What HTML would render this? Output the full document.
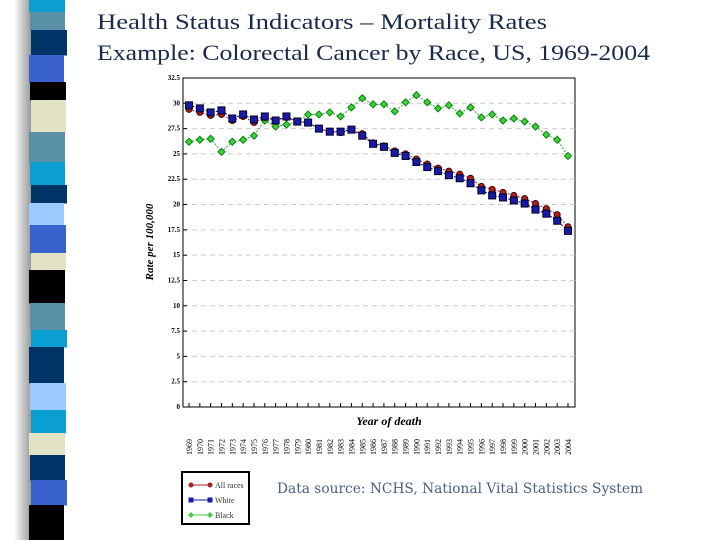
<!DOCTYPE html>
<html><head><meta charset="utf-8"><style>
body{margin:0;width:720px;height:540px;background:#fff;overflow:hidden;position:relative;font-family:"Liberation Serif",serif}
</style></head><body>
<svg width="720" height="540" viewBox="0 0 720 540" xmlns="http://www.w3.org/2000/svg">
<defs><linearGradient id="sh" x1="0" x2="1"><stop offset="0" stop-color="#fff"/><stop offset="1" stop-color="#888"/></linearGradient></defs>
<g id="stripe">
<rect x="14" y="0" width="20" height="540" fill="url(#sh)"/>
</g>
<g fill="#1a2a4a" font-size="22">
<text x="97" y="29" textLength="450" lengthAdjust="spacingAndGlyphs">Health Status Indicators – Mortality Rates</text>
<text x="97" y="60" textLength="553" lengthAdjust="spacingAndGlyphs">Example: Colorectal Cancer by Race, US, 1969-2004</text>
</g>
<g id="chart"></g>
<text x="277" y="493" font-family="DejaVu Serif,serif" font-size="14" fill="#4a6080" textLength="366" lengthAdjust="spacingAndGlyphs">Data source: NCHS, National Vital Statistics System</text>
</svg>
<script>
const years=[1969,1970,1971,1972,1973,1974,1975,1976,1977,1978,1979,1980,1981,1982,1983,1984,1985,1986,1987,1988,1989,1990,1991,1992,1993,1994,1995,1996,1997,1998,1999,2000,2001,2002,2003,2004];
const allRaces=[29.4,29.1,28.8,28.9,28.3,28.7,28.1,28.6,28.3,28.6,28.2,28.1,27.5,27.2,27.1,27.4,27.0,26.1,25.8,25.3,25.0,24.5,24.0,23.6,23.3,23.0,22.6,21.8,21.5,21.2,20.9,20.6,20.1,19.6,19.0,17.8];
const white=[29.8,29.5,29.1,29.3,28.5,28.9,28.4,28.7,28.3,28.7,28.2,28.1,27.5,27.2,27.2,27.4,26.8,26.0,25.7,25.1,24.8,24.2,23.7,23.3,22.9,22.6,22.1,21.4,20.9,20.7,20.4,20.1,19.5,19.1,18.4,17.4];
const black=[26.2,26.4,26.5,25.2,26.2,26.4,26.8,28.3,27.7,27.9,28.2,28.9,28.9,29.1,28.7,29.6,30.5,29.9,29.9,29.2,30.1,30.8,30.1,29.5,29.8,29.0,29.6,28.6,28.9,28.3,28.5,28.2,27.7,26.9,26.4,24.8];
const yTicks=[0,2.5,5,7.5,10,12.5,15,17.5,20,22.5,25,27.5,30,32.5];
const yTickLabels=["0","2.5","5","7.5","10","12.5","15","17.5","20","22.5","25","27.5","30","32.5"];
const stripeColors=["#0a9fd0","#5a90a8","#003366","#3a62cc","#000","#e2e2c4","#5a90a8","#0a9fd0","#003366","#9cccff","#3a62cc","#e2e2c4","#000","#5a90a8","#0a9fd0","#003366","#9cccff","#0a9fd0","#e2e2c4","#003366","#3a62cc","#000"];
const stripeEnds=[12,30,55,82,100,132,162,185,203,225,253,270,303,330,347,383,410,433,455,480,505,540];
const NS="http://www.w3.org/2000/svg";
function mk(t,a,p){const e=document.createElementNS(NS,t);for(const k in a)e.setAttribute(k,a[k]);p.appendChild(e);return e;}
const st=document.getElementById('stripe');
let y0=0;
stripeColors.forEach((c,i)=>{const r=mk('rect',{x:29+(i%3),y:y0,width:36-(i%2),height:stripeEnds[i]-y0+0.5,fill:c},st);


y0=stripeEnds[i];});
const g=document.getElementById('chart');
const L=183,R=575,T=78,B=407;
const xs=i=>189+(568-189)*i/(years.length-1);
const ys=v=>B-(B-T)*v/32.5;
const bg=mk('rect',{x:L,y:T,width:R-L,height:B-T,fill:'#fff',stroke:'#000','stroke-width':1},g);


yTicks.forEach((v,i)=>{
 if(v>0&&v<32.5){const gl=mk('line',{x1:L,x2:R,y1:ys(v),y2:ys(v),stroke:'#ccc','stroke-dasharray':'5,4'},g);
 
 }
 const t=mk('text',{x:L-3,y:ys(v)+2,'text-anchor':'end','font-size':7,'font-weight':'bold'},g);t.textContent=yTickLabels[i];
 
 
 mk('line',{x1:L,x2:L+4,y1:ys(v),y2:ys(v),stroke:'#000'},g);
});
years.forEach((yr,i)=>{
 mk('line',{x1:xs(i),x2:xs(i),y1:B,y2:B-4,stroke:'#000'},g);
 const t=mk('text',{transform:`translate(${xs(i)+3},455) rotate(-90)`,'font-size':8},g);t.textContent=yr;
 
 
});
const xt=mk('text',{x:389,y:425,'text-anchor':'middle','font-size':12,'font-weight':'bold','font-style':'italic'},g);xt.textContent='Year of death';


const yt=mk('text',{transform:'translate(153,242) rotate(-90)','text-anchor':'middle','font-size':11,'font-weight':'bold','font-style':'italic'},g);yt.textContent='Rate per 100,000';


function series(data,color,line,shape,name){
 const sg=mk('g',{},g);
 
 
 mk('polyline',{points:data.map((v,i)=>xs(i)+','+ys(v)).join(' '),fill:'none',stroke:line,'stroke-width':1,'stroke-dasharray':'2,1.5'},sg);
 data.forEach((v,i)=>{const x=xs(i),y=ys(v);let m;
  if(shape==='c')m=mk('circle',{cx:x,cy:y,r:3,fill:color,stroke:'#400'},sg);
  else if(shape==='s')m=mk('rect',{x:x-3.5,y:y-3.5,width:7,height:7,fill:color,stroke:'#002'},sg);
  else m=mk('polygon',{points:`${x},${y-3.5} ${x+3.5},${y} ${x},${y+3.5} ${x-3.5},${y}`,fill:color,stroke:'#080'},sg);
  
  });
}
series(black,'#44cc44','#33aa33','d','series-black');
series(allRaces,'#aa2222','#aa2222','c','series-all-races');
series(white,'#1a1aaa','#000066','s','series-white');
const lg=mk('g',{},g);


mk('rect',{x:182,y:472,width:67,height:52,fill:'#fff',stroke:'#000','stroke-width':2},lg);
[['All races','#aa2222','c'],['White','#1a1aaa','s'],['Black','#44cc44','d']].forEach((e,i)=>{
 const y=485+i*15;
 mk('line',{x1:191,x2:210,y1:y,y2:y,stroke:e[1]},lg);
 [191,210].forEach(x=>{if(e[2]==='c')mk('circle',{cx:x,cy:y,r:2.5,fill:e[1]},lg);else if(e[2]==='s')mk('rect',{x:x-2.5,y:y-2.5,width:5,height:5,fill:e[1]},lg);else mk('polygon',{points:`${x},${y-3} ${x+3},${y} ${x},${y+3} ${x-3},${y}`,fill:e[1]},lg);});
 const t=mk('text',{x:215,y:y+3,'font-size':8,fill:'#333'},lg);t.textContent=e[0];
 
 
});
</script>
</body></html>
